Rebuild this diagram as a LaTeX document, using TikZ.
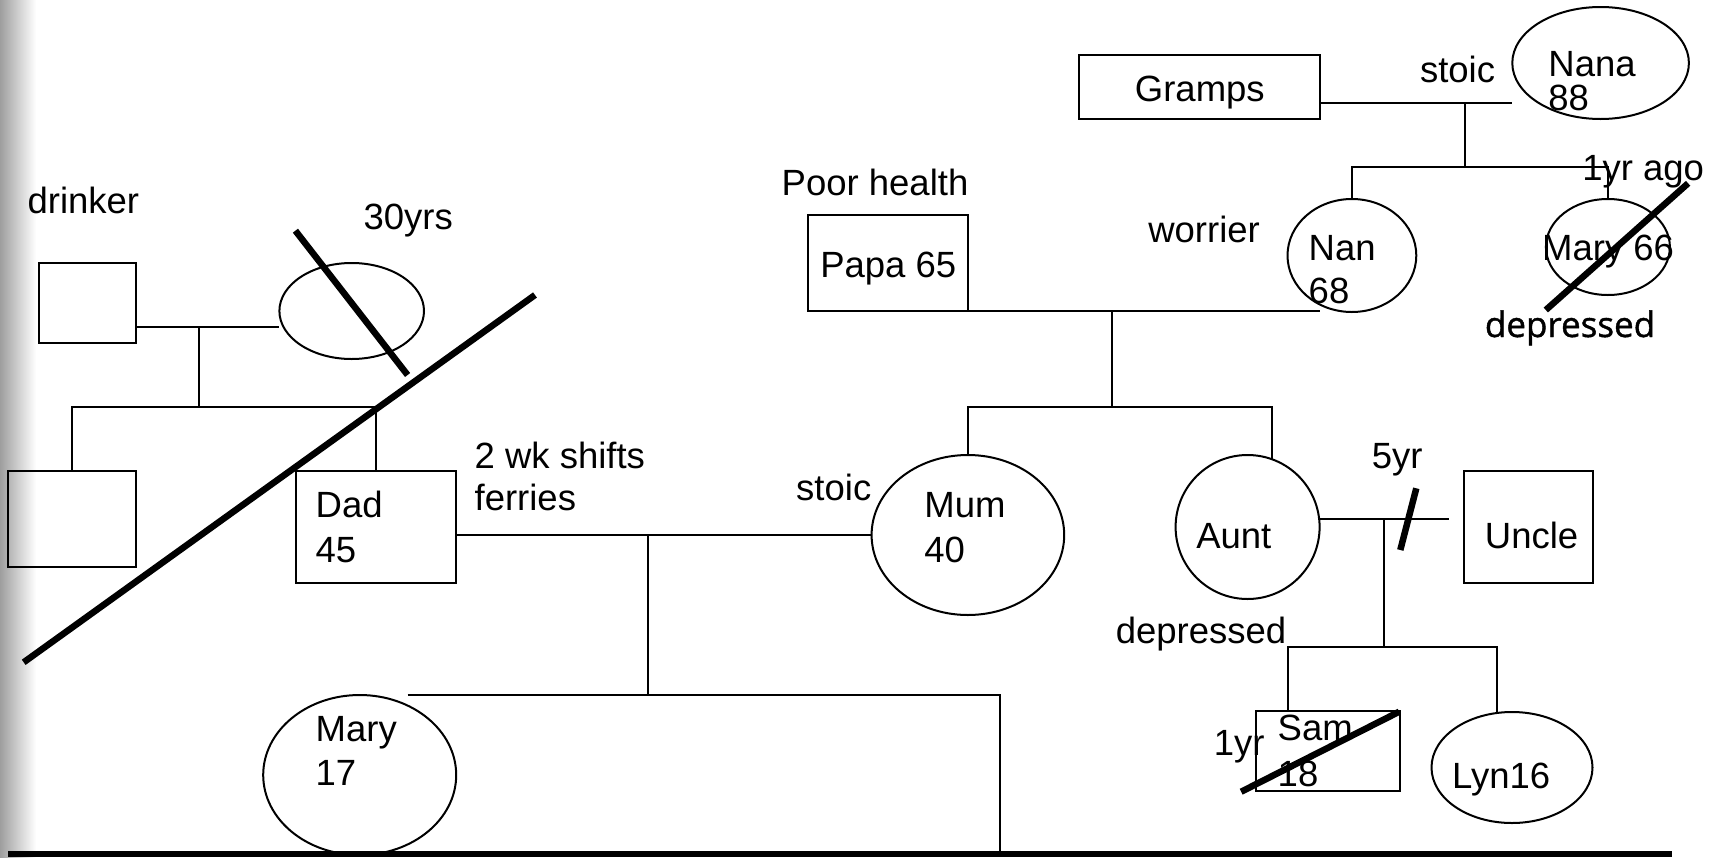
\documentclass[tikz,border=0pt]{standalone}
\usepackage{fontspec}
\setmainfont{Liberation Sans}
\newfontfamily\osfont[FakeBold=1.2]{Open Sans}
\usetikzlibrary{shapes.geometric,calc}
\tikzset{
  txt/.style={anchor=base west, inner sep=0pt, outer sep=0pt, font=\fontsize{36.5}{43}\selectfont},
  male/.style={draw, rectangle, line width=2pt, inner sep=0pt, outer sep=0pt},
  female/.style={draw, ellipse, line width=2pt, inner sep=0pt, outer sep=0pt},
  rel/.style={line width=2pt},
  cross/.style={line width=6.5pt},
}
\begin{document}
\begin{tikzpicture}[x=1pt,y=-1pt]
\useasboundingbox (0,0) rectangle (1722,857);
\shade[left color=black!38, right color=white] (0,0) rectangle (36,857);

% ---------- left family ----------
\node[male, minimum width=96.5pt, minimum height=80pt] (gf) at (87.6,303) {};
\node[female, minimum width=144.6pt, minimum height=96pt] (gm) at (351.7,311) {};
\node[male, minimum width=128.2pt, minimum height=96pt] (c1) at (71.8,519) {};
\node[male, minimum width=160.4pt, minimum height=112pt] (dad) at (376,527) {};
\coordinate (j1) at (199.4,327);
\coordinate (j2) at (199.4,407);
\draw[rel] (gf.east |- j1) -- (gm.west |- j1);
\draw[rel] (j1) -- (j2);
\draw[rel] (c1.north) -- (c1.north |- j2) -- (dad.north |- j2) -- (dad.north);

% ---------- Dad + Mum ----------
\node[female, minimum width=192.6pt, minimum height=160pt] (mum) at (967.9,535) {};
\node[female, minimum width=193pt, minimum height=160pt] (mary) at (359.7,775) {};
\node[fill=black, minimum width=1664pt, minimum height=6pt, inner sep=0pt, outer sep=0pt, anchor=north west] (floor) at (7.7,851) {};
\coordinate (j3) at (647.7,535);
\coordinate (j4) at (647.7,695);
\coordinate (kidL) at (407.6,695);
\coordinate (kidR) at (1000.2,695);
\draw[rel] (dad.east |- mum.west) -- (mum.west);
\draw[rel] (j3) -- (j4);
\draw[rel] (kidL) -- (kidR) -- (kidR |- floor.north);

% ---------- Papa + Nan ----------
\node[male, minimum width=160.7pt, minimum height=96pt] (papa) at (888,263) {};
\node[female, minimum width=128.8pt, minimum height=113pt] (nan) at (1351.9,255.5) {};
\node[female, minimum width=144pt, minimum height=144pt] (aunt) at (1247.6,527) {};
\coordinate (pn1) at (920.6,311);
\coordinate (pn2) at (1320.4,311);
\coordinate (j5) at (1112,311);
\coordinate (j6) at (1112,407);
\coordinate (auntTop) at ($(aunt.north)+(23.9,4)$);
\draw[rel] (pn1) -- (pn2);
\draw[rel] (j5) -- (j6);
\draw[rel] (mum.north) -- (mum.north |- j6) -- (auntTop |- j6) -- (auntTop);

% ---------- Gramps + Nana ----------
\node[male, minimum width=241pt, minimum height=64pt] (gramps) at (1199.9,87) {};
\node[female, minimum width=176.6pt, minimum height=112pt] (nana) at (1600.6,63) {};
\node[female, minimum width=124pt, minimum height=96pt] (mary66) at (1607.9,247) {};
\coordinate (gn2) at (1512.3,103);
\coordinate (j7) at (1464.5,103);
\coordinate (j8) at (1464.5,167);
\draw[rel] (gramps.east |- gn2) -- (gn2);
\draw[rel] (j7) -- (j8);
\draw[rel] (nan.north) -- (nan.north |- j8) -- (mary66.north |- j8) -- (mary66.north);

% ---------- Aunt + Uncle ----------
\node[male, minimum width=128.7pt, minimum height=112pt] (uncle) at (1528.2,527) {};
\node[male, minimum width=144.5pt, minimum height=80pt] (sam) at (1328,751) {};
\node[female, minimum width=161pt, minimum height=111pt] (lyn) at (1512,767.5) {};
\coordinate (au2) at (1449.2,519);
\coordinate (j9) at (1383.5,519);
\coordinate (j10) at (1383.5,647);
\coordinate (samTop) at ($(sam.north west)+(32.1,0)$);
\coordinate (lynTop) at ($(lyn.north)+(-15.4,0.5)$);
\draw[rel] (aunt.east |- au2) -- (au2);
\draw[rel] (j9) -- (j10);
\draw[rel] (samTop) -- (samTop |- j10) -- (lynTop |- j10) -- (lynTop);

% ---------- slashes ----------
\draw[cross] (295.4,230.7) -- (407.6,375);
\draw[cross] (535,295) -- (23.7,662.3);
\draw[cross] (1545.8,310) -- (1688.1,183.3);
\draw[cross] (1416.3,488.3) -- (1400.3,550);
\draw[cross] (1241.2,791.7) -- (1399.2,711.7);

% ---------- texts ----------
\node[txt] (tdrinker) at (27.6,213) {drinker};
\node[txt] (t30) at (363.6,229) {30yrs};
\node[txt] (tdad) at (315.7,517) {Dad};
\node[txt] (t45) at (315.7,562) {45};
\node[txt] (tshift) at (474.6,468) {2 wk shifts};
\node[txt] (tferry) at (474.6,510) {ferries};
\node[txt] (tmary) at (315.7,741) {Mary};
\node[txt] (t17) at (315.7,785) {17};
\node[txt] (tpoor) at (781.7,195) {Poor health};
\node[txt] (tpapa) at (820.3,277) {Papa 65};
\node[txt] (tgramps) at (1134.9,101) {Gramps};
\node[txt] (tstoic1) at (1420,82) {stoic};
\node[txt] (tnana) at (1548.4,76) {Nana};
\node[txt] (t88) at (1548.4,110) {88};
\node[txt] (tworry) at (1148.3,242) {worrier};
\node[txt] (tnan) at (1308.7,260) {Nan};
\node[txt] (t68) at (1308.7,303) {68};
\node[txt] (tmary66) at (1542.2,260) {Mary 66};
\node[txt] (tago) at (1582.3,180) {1yr ago};
\node[txt, font=\osfont\fontsize{35}{42}\selectfont] (tdep1) at (1484.9,337) {depressed};
\node[txt] (tstoic2) at (796.2,500) {stoic};
\node[txt] (tmum) at (924.4,517) {Mum};
\node[txt] (t40) at (924.4,562) {40};
\node[txt] (taunt) at (1196.3,548) {Aunt};
\node[txt] (t5yr) at (1371.8,468) {5yr};
\node[txt] (tuncle) at (1484.9,548) {Uncle};
\node[txt] (tdep2) at (1115.8,643) {depressed};
\node[txt] (tsam) at (1277.7,740) {Sam};
\node[txt] (t18) at (1277.7,786) {18};
\node[txt] (t1yr) at (1213.8,755) {1yr};
\node[txt] (tlyn) at (1452.1,788) {Lyn16};
\end{tikzpicture}
\end{document}
